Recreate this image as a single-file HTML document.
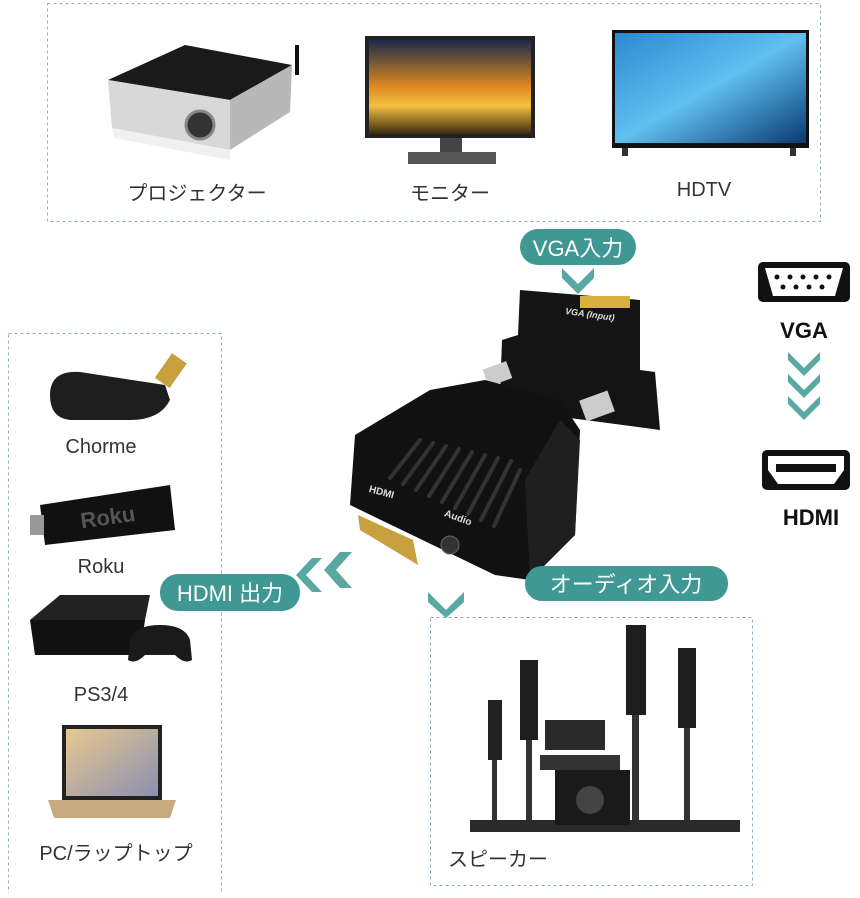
<!DOCTYPE html>
<html><head><meta charset="utf-8"><style>
body{margin:0;width:860px;height:893px;background:#fff;overflow:hidden;font-family:"Liberation Sans","Noto Sans CJK JP",sans-serif}
</style></head><body>
<svg width="860" height="893" viewBox="0 0 860 893" xmlns="http://www.w3.org/2000/svg" font-family="Liberation Sans, Noto Sans CJK JP, sans-serif">
<defs>
<linearGradient id="sun" x1="0" y1="0" x2="0" y2="1"><stop offset="0" stop-color="#1a2a4a"/><stop offset="0.5" stop-color="#e08a20"/><stop offset="0.7" stop-color="#f3c040"/><stop offset="1" stop-color="#3a2a10"/></linearGradient>
<linearGradient id="sea" x1="0" y1="0" x2="1" y2="1"><stop offset="0" stop-color="#2a8ad0"/><stop offset="0.5" stop-color="#60c0f0"/><stop offset="1" stop-color="#0a3a70"/></linearGradient>
<linearGradient id="lap" x1="0" y1="0" x2="1" y2="1"><stop offset="0" stop-color="#e8c890"/><stop offset="1" stop-color="#8a90b0"/></linearGradient>
</defs>
<rect x="47.5" y="3.5" width="773" height="218" fill="none" stroke="#8fb0bc" stroke-dasharray="3,3"/>
<rect x="8.5" y="333.5" width="213" height="560" fill="none" stroke="#8fb0bc" stroke-dasharray="3,3"/>
<rect x="430.5" y="617.5" width="322" height="268" fill="none" stroke="#8fb0bc" stroke-dasharray="3,3"/>
<!-- projector -->
<polygon points="108,80 185,45 292,65 230,100" fill="#1a1a1a"/>
<polygon points="108,80 230,100 230,150 112,128" fill="#d8d8d8"/>
<polygon points="230,100 292,65 290,112 230,150" fill="#b8b8b8"/>
<polygon points="112,128 230,150 230,160 114,138" fill="#f0f0f0"/>
<circle cx="200" cy="125" r="14" fill="#333" stroke="#888" stroke-width="3"/>
<rect x="295" y="45" width="4" height="30" fill="#111"/>
<!-- monitor -->
<rect x="365" y="36" width="170" height="102" fill="#222"/>
<rect x="369" y="40" width="162" height="94" fill="url(#sun)"/>
<rect x="440" y="138" width="22" height="16" fill="#444"/>
<rect x="408" y="152" width="88" height="12" fill="#555"/>
<!-- HDTV -->
<rect x="612" y="30" width="197" height="118" fill="#111"/>
<rect x="615" y="33" width="191" height="110" fill="url(#sea)"/>
<rect x="622" y="148" width="6" height="8" fill="#333"/><rect x="790" y="148" width="6" height="8" fill="#333"/>
<g fill="#333" font-size="20" text-anchor="middle">
<text x="197" y="200">プロジェクター</text>
<text x="450" y="200">モニター</text>
<text x="704" y="196">HDTV</text>
<text x="101" y="453">Chorme</text>
<text x="101" y="573">Roku</text>
<text x="101" y="701">PS3/4</text>
<text x="116" y="860">PC/ラップトップ</text>
<text x="498" y="866">スピーカー</text>
</g>
<path d="M50,395 Q50,370 80,372 L165,385 L170,400 Q160,420 130,420 L70,420 Q50,418 50,395Z" fill="#1e1e1e"/>
<rect x="162" y="355" width="18" height="30" transform="rotate(35 170 370)" fill="#c8a040"/>
<polygon points="40,505 170,485 175,530 45,545" fill="#111"/>
<text x="80" y="525" font-size="22" font-weight="bold" fill="#555" transform="rotate(-8 105 515)">Roku</text>
<rect x="30" y="515" width="14" height="20" fill="#999"/>
<polygon points="30,620 60,595 150,595 145,620" fill="#222"/>
<polygon points="30,620 145,620 140,655 35,655" fill="#111"/>
<path d="M130,640 Q135,625 160,625 Q185,625 190,640 L192,660 Q185,665 175,655 L145,655 Q135,665 128,660Z" fill="#1a1a1a"/>
<polygon points="62,725 162,725 162,800 62,800" fill="#222"/>
<rect x="66" y="729" width="92" height="67" fill="url(#lap)"/>
<polygon points="48,800 176,800 170,818 54,818" fill="#c8aa80"/>
<rect x="470" y="820" width="270" height="12" fill="#2a2a2a"/>
<rect x="488" y="700" width="14" height="60" fill="#222"/><rect x="492" y="760" width="5" height="60" fill="#333"/>
<rect x="520" y="660" width="18" height="80" fill="#1e1e1e"/><rect x="526" y="740" width="6" height="80" fill="#333"/>
<rect x="626" y="625" width="20" height="90" fill="#1e1e1e"/><rect x="632" y="715" width="7" height="105" fill="#333"/>
<rect x="678" y="648" width="18" height="80" fill="#1e1e1e"/><rect x="684" y="728" width="6" height="92" fill="#333"/>
<rect x="545" y="720" width="60" height="30" fill="#2a2a2a"/>
<rect x="540" y="755" width="80" height="15" fill="#333"/>
<rect x="555" y="770" width="75" height="55" fill="#1a1a1a"/>
<circle cx="590" cy="800" r="14" fill="#444"/>
<!-- adapter -->
<polygon points="520,290 640,300 640,370 655,372 660,430 570,418 500,395 502,340 518,335" fill="#141414"/>
<rect x="580" y="296" width="50" height="12" fill="#d8b040"/>
<text x="565" y="316" font-size="9" font-weight="bold" fill="#ddd" font-style="italic" transform="rotate(8 580 314)">VGA (Input)</text>
<rect x="485" y="365" width="25" height="18" fill="#ccc" transform="rotate(-20 497 374)"/>
<rect x="582" y="395" width="30" height="22" fill="#ccc" transform="rotate(-20 597 406)"/>
<polygon points="430,390 485,380 560,400 580,430 575,535 530,580 495,575 350,505 355,435" fill="#111"/>
<polygon points="530,580 575,535 580,440 560,420 525,480" fill="#1f1f1f"/>
<g stroke="#333" stroke-width="4" stroke-linecap="round">
<line x1="390" y1="478" x2="420" y2="440"/><line x1="403" y1="484" x2="433" y2="443"/><line x1="416" y1="490" x2="446" y2="446"/><line x1="429" y1="496" x2="459" y2="449"/><line x1="442" y1="502" x2="472" y2="452"/><line x1="455" y1="508" x2="485" y2="455"/><line x1="468" y1="514" x2="498" y2="458"/><line x1="481" y1="520" x2="511" y2="461"/><line x1="494" y1="526" x2="520" y2="470"/>
</g>
<polygon points="358,515 413,540 418,565 360,530" fill="#c8a040"/>
<circle cx="450" cy="545" r="9" fill="#333" stroke="#666"/>
<text x="368" y="495" font-size="10" font-weight="bold" fill="#ddd" transform="rotate(15 380 495)">HDMI</text>
<text x="443" y="520" font-size="10" font-weight="bold" fill="#ddd" transform="rotate(20 455 520)">Audio</text>
<rect x="520" y="229" width="116" height="36" rx="18" fill="#3f9893"/>
<text x="578" y="256" font-size="22" fill="#fff" text-anchor="middle">VGA入力</text>
<polygon points="562,268 578,284 594,268 594,278 578,294 562,278" fill="#5aa8a2"/>
<rect x="160" y="574" width="140" height="37" rx="18" fill="#3f9893"/>
<text x="230" y="601" font-size="22" fill="#fff" text-anchor="middle">HDMI 出力</text>
<polygon points="312,558 296,575 312,592 322,592 306,575 322,558" fill="#5aa8a2"/>
<polygon points="340,552 324,570 340,588 352,588 336,570 352,552" fill="#5aa8a2"/>
<rect x="525" y="566" width="203" height="35" rx="17" fill="#3f9893"/>
<text x="626" y="592" font-size="22" fill="#fff" text-anchor="middle">オーディオ入力</text>
<polygon points="428,592 446,610 464,592 464,602 446,618 428,602" fill="#5aa8a2"/>
<rect x="758" y="262" width="92" height="40" rx="5" fill="#111"/>
<polygon points="765,268 843,268 835,296 773,296" fill="#fff"/>
<g fill="#111"><circle cx="777" cy="277" r="2.5"/><circle cx="790" cy="277" r="2.5"/><circle cx="803" cy="277" r="2.5"/><circle cx="816" cy="277" r="2.5"/><circle cx="829" cy="277" r="2.5"/><circle cx="783" cy="287" r="2.5"/><circle cx="796" cy="287" r="2.5"/><circle cx="809" cy="287" r="2.5"/><circle cx="822" cy="287" r="2.5"/></g>
<text x="804" y="338" font-size="22" font-weight="bold" fill="#111" text-anchor="middle">VGA</text>
<g fill="#5aa8a2"><polygon points="788,352 804,368 820,352 820,360 804,376 788,360"/><polygon points="788,374 804,390 820,374 820,382 804,398 788,382"/><polygon points="788,396 804,412 820,396 820,404 804,420 788,404"/></g>
<rect x="762" y="450" width="88" height="40" rx="5" fill="#111"/>
<polygon points="768,456 844,456 844,470 834,484 778,484 768,470" fill="#fff"/>
<rect x="776" y="464" width="60" height="8" fill="#111"/>
<text x="811" y="525" font-size="22" font-weight="bold" fill="#111" text-anchor="middle">HDMI</text>
</svg>
</body></html>
